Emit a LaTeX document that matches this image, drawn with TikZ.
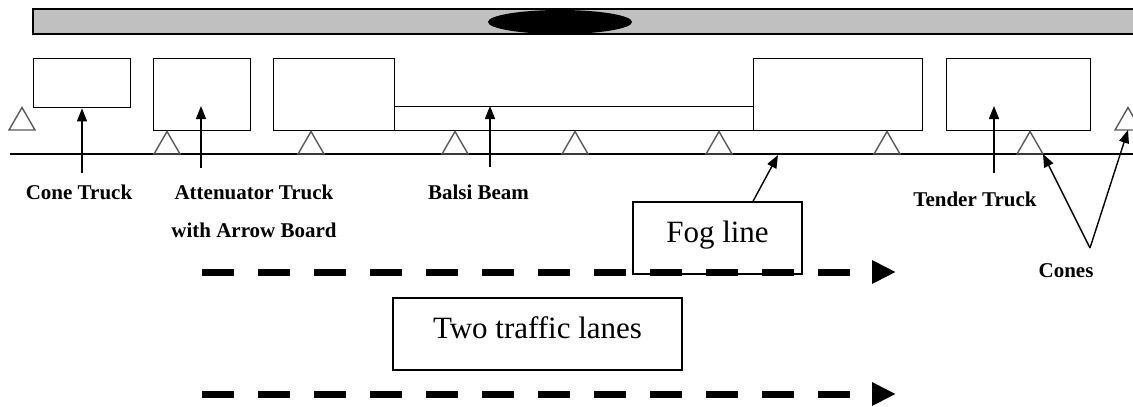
\documentclass[tikz,border=0pt]{standalone}
\usepackage{fontspec}
\setmainfont{Liberation Serif}
\usetikzlibrary{shapes,arrows.meta,positioning}
\definecolor{barfill}{RGB}{192,192,192}

\begin{document}
\begin{tikzpicture}[x=1pt,y=-1pt]
% Define styles
\tikzstyle{truck} = [rectangle, draw=black, line width=1.4pt, anchor=north west, inner sep=0pt]
\tikzstyle{cone} = [regular polygon, regular polygon sides=3, minimum size=30pt, inner sep=0pt, outer sep=0pt, draw=black!65, line width=1.4pt]
\tikzstyle{textbox} = [rectangle, draw=black, line width=1.4pt, font=\fontsize{31}{36}\selectfont, text depth=13pt]
\tikzstyle{tag} = [anchor=north, inner sep=0pt, align=center, font=\fontsize{21}{38}\selectfont\bfseries]
\tikzstyle{pointer} = [line width=1.4pt, -{Triangle[length=13pt,width=10pt]}]
\tikzstyle{lane} = [line width=7pt, dash pattern=on 32pt off 24pt, -{Triangle[length=24pt,width=22pt]}]

\clip (0,0) rectangle (1133,407);

% Draw road and bar
\draw [line width=1.4pt, fill=barfill] (33,9) rectangle (1150,34);
\fill (560,22) ellipse [x radius=72pt, y radius=12pt];
\draw [line width=1.4pt] (10,154) -- (1150,154);

% Draw trucks
\node (conetruck) [truck, minimum width=97pt, minimum height=49pt] at (33,58) {};
\node (attentruck) [truck, minimum width=97pt, minimum height=72pt] at (153,58) {};
\node (fronttruck) [truck, minimum width=121pt, minimum height=72pt] at (273,58) {};
\node (beam) [truck, minimum width=359pt, minimum height=24pt] at (394,106) {};
\node (reartruck) [truck, minimum width=169pt, minimum height=72pt] at (753,58) {};
\node (tendertruck) [truck, minimum width=144pt, minimum height=72pt] at (946,58) {};

% Draw cones
\node (c1) [cone] at (22,122.5) {};
\node (c2) [cone] at (167,146.5) {};
\node (c3) [cone] at (311,146.5) {};
\node (c4) [cone] at (455,146.5) {};
\node (c5) [cone] at (575,146.5) {};
\node (c6) [cone] at (719,146.5) {};
\node (c7) [cone] at (887,146.5) {};
\node (c8) [cone] at (1030,146.5) {};
\node (c9) [cone] at (1128,122.5) {};

% Draw boxes and labels
\node (fogbox) [textbox, minimum width=169pt, minimum height=72pt] at (717.5,238) {Fog line};
\node (lanebox) [textbox, minimum width=289pt, minimum height=72pt] at (537.5,334) {Two traffic lanes};
\node (conelabel) [tag] at (79,185) {Cone Truck};
\node (attenlabel) [tag] at (254,185) {Attenuator Truck\\with Arrow Board};
\node (beamlabel) [tag] at (478.5,185) {Balsi Beam};
\node (tenderlabel) [tag] at (975,192) {Tender Truck};
\node (coneslabel) [tag] at (1066,263) {Cones};

% Draw arrows
\coordinate (conetail) at (82,173);
\coordinate (attentail) at (201,168);
\coordinate (beamtail) at (490,167);
\coordinate (tendertail) at (994,173);
\coordinate (fogpoint) at (778,155);
\coordinate (vtip) at (1090,248);
\draw [pointer] (conetail) -- (conetail |- conetruck.south);
\draw [pointer] (attentail) -- (attentail |- beam.north);
\draw [pointer] (beamtail) -- (beamtail |- beam.north);
\draw [pointer] (tendertail) -- (tendertail |- beam.north);
\draw [pointer] ([xshift=35.5pt]fogbox.north) -- (fogpoint);
\draw [pointer] (vtip) -- (c8.corner 3);
\draw [pointer] (vtip) -- (c9.south);

% Draw lanes
\coordinate (lane1start) at (202,272);
\coordinate (lane1end) at (896,272);
\coordinate (lane2start) at (202,394);
\coordinate (lane2end) at (896,394);
\draw [lane] (lane1start) -- (lane1end);
\draw [lane] (lane2start) -- (lane2end);
\end{tikzpicture}
\end{document}
